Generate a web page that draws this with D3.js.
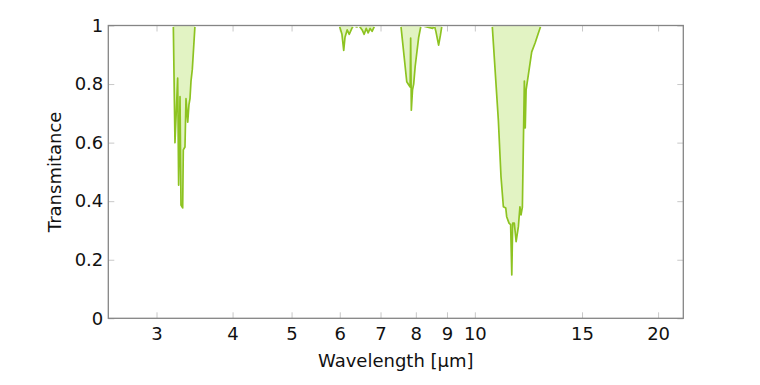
<!DOCTYPE html>
<html lang="en">
<head>
<meta charset="utf-8">
<title>Transmittance</title>
<script src="https://d3js.org/d3.v7.min.js"></script>
<style>
  body { margin: 0; background: white; }
  text { font-family: 'DejaVu Sans', sans-serif; fill: #111; }
</style>
</head>
<body>
<div class="chart"></div>
<script>
// wavelength in micrometres and transmittance
const wavelength = [
  2.5,
  3.197, 3.217, 3.250, 3.262, 3.279, 3.291, 3.312, 3.320, 3.341, 3.354, 3.376, 3.392, 3.405, 3.418, 3.435, 3.470,
  5.99, 6.05, 6.09, 6.12, 6.17, 6.22, 6.28, 6.32, 6.40, 6.45, 6.53, 6.58, 6.63, 6.68, 6.73, 6.78, 6.85,
  7.56, 7.73, 7.79, 7.83, 7.845, 7.865, 7.90, 7.935, 7.98, 8.087, 8.158,
  8.53, 8.58, 8.63, 8.72, 8.78, 8.83,
  10.68, 10.93, 11.04, 11.14, 11.24, 11.28, 11.38, 11.45, 11.50, 11.54, 11.61, 11.69, 11.79, 11.86, 11.91, 11.97,
  12.06, 12.10, 12.14, 12.24, 12.40, 12.56, 12.71, 12.84,
  22
];
const transmittance = [
  1,
  1, 0.60, 0.82, 0.455, 0.757, 0.387, 0.377, 0.575, 0.585, 0.75, 0.67, 0.73, 0.75, 0.81, 0.85, 1,
  1, 0.97, 0.915, 0.96, 0.985, 0.97, 0.99, 1, 0.995, 1, 0.985, 0.97, 0.99, 0.975, 0.99, 0.98, 1,
  1, 0.808, 0.797, 0.79, 0.957, 0.711, 0.78, 0.80, 0.86, 0.96, 1,
  0.99, 1, 0.98, 0.933, 0.967, 1,
  1, 0.677, 0.484, 0.381, 0.377, 0.347, 0.325, 0.32, 0.148, 0.325, 0.325, 0.262, 0.313, 0.381, 0.353, 0.38,
  0.81, 0.65, 0.78, 0.83, 0.91, 0.94, 0.973, 1,
  1
];
const xTicks = [3, 4, 5, 6, 7, 8, 9, 10, 15, 20];
const yTicks = [0, 0.2, 0.4, 0.6, 0.8, 1];

const data = wavelength.map((w, i) => ({ w: w, t: transmittance[i] }));

const width = 760, height = 385;
const plotLeft = 108.3, plotRight = 683.3, plotTop = 25.5, plotBottom = 318.3;

const x = d3.scaleLog().domain([2.5, 22]).range([plotLeft, plotRight]);
const y = d3.scaleLinear().domain([0, 1]).range([plotBottom, plotTop]);

const svg = d3.select(".chart").append("svg")
  .attr("width", width)
  .attr("height", height);

const defs = svg.append("defs");
defs.append("clipPath").attr("id", "plot")
  .append("rect")
  .attr("x", plotLeft).attr("y", plotTop)
  .attr("width", plotRight - plotLeft).attr("height", plotBottom - plotTop);
// line clip sits just under the top edge so the flat run at 1 hides behind the frame
defs.append("clipPath").attr("id", "plotLine")
  .append("rect")
  .attr("x", plotLeft).attr("y", plotTop + 1.5)
  .attr("width", plotRight - plotLeft).attr("height", plotBottom - plotTop - 1.5);

// ticks (inward, light grey)
const tick = 6;
svg.append("g")
  .attr("transform", "translate(0," + plotBottom + ")")
  .call(d3.axisBottom(x).tickValues(xTicks).tickFormat(d3.format("d"))
    .tickSizeInner(-tick).tickSizeOuter(0).tickPadding(9));
svg.append("g")
  .attr("transform", "translate(0," + plotTop + ")")
  .call(d3.axisTop(x).tickValues(xTicks).tickFormat("")
    .tickSizeInner(-tick).tickSizeOuter(0));
svg.append("g")
  .attr("transform", "translate(" + plotLeft + ",0)")
  .call(d3.axisLeft(y).tickValues(yTicks).tickFormat(d3.format(""))
    .tickSizeInner(-tick).tickSizeOuter(0).tickPadding(5));
svg.append("g")
  .attr("transform", "translate(" + plotRight + ",0)")
  .call(d3.axisRight(y).tickValues(yTicks).tickFormat("")
    .tickSizeInner(-tick).tickSizeOuter(0));

svg.selectAll(".domain").remove();
svg.selectAll(".tick line").attr("stroke", "#c8c8c8");
svg.selectAll(".tick text")
  .style("font-size", "18px")
  .style("font-family", "'DejaVu Sans', sans-serif")
  .attr("fill", "#111");

// area between curve and 1
const area = d3.area()
  .x(d => x(d.w))
  .y0(y(1))
  .y1(d => y(d.t));
const line = d3.line()
  .x(d => x(d.w))
  .y(d => y(d.t));

svg.append("path")
  .datum(data)
  .attr("clip-path", "url(#plot)")
  .attr("d", area)
  .attr("fill", "#e2f3c3");
svg.append("path")
  .datum(data)
  .attr("clip-path", "url(#plotLine)")
  .attr("d", line)
  .attr("fill", "none")
  .attr("stroke", "#8dc321")
  .attr("stroke-width", 1.7)
  .attr("stroke-linejoin", "round");

// frame
svg.append("rect")
  .attr("x", plotLeft).attr("y", plotTop)
  .attr("width", plotRight - plotLeft).attr("height", plotBottom - plotTop)
  .attr("fill", "none")
  .attr("stroke", "#858585")
  .attr("stroke-width", 1.3);

svg.append("text")
  .attr("x", (plotLeft + plotRight) / 2)
  .attr("y", 367)
  .attr("text-anchor", "middle")
  .style("font-size", "18px")
  .text("Wavelength [µm]");

svg.append("text")
  .attr("transform", "translate(61," + (plotTop + plotBottom) / 2 + ") rotate(-90)")
  .attr("text-anchor", "middle")
  .style("font-size", "18px")
  .text("Transmitance");
</script>
</body>
</html>
